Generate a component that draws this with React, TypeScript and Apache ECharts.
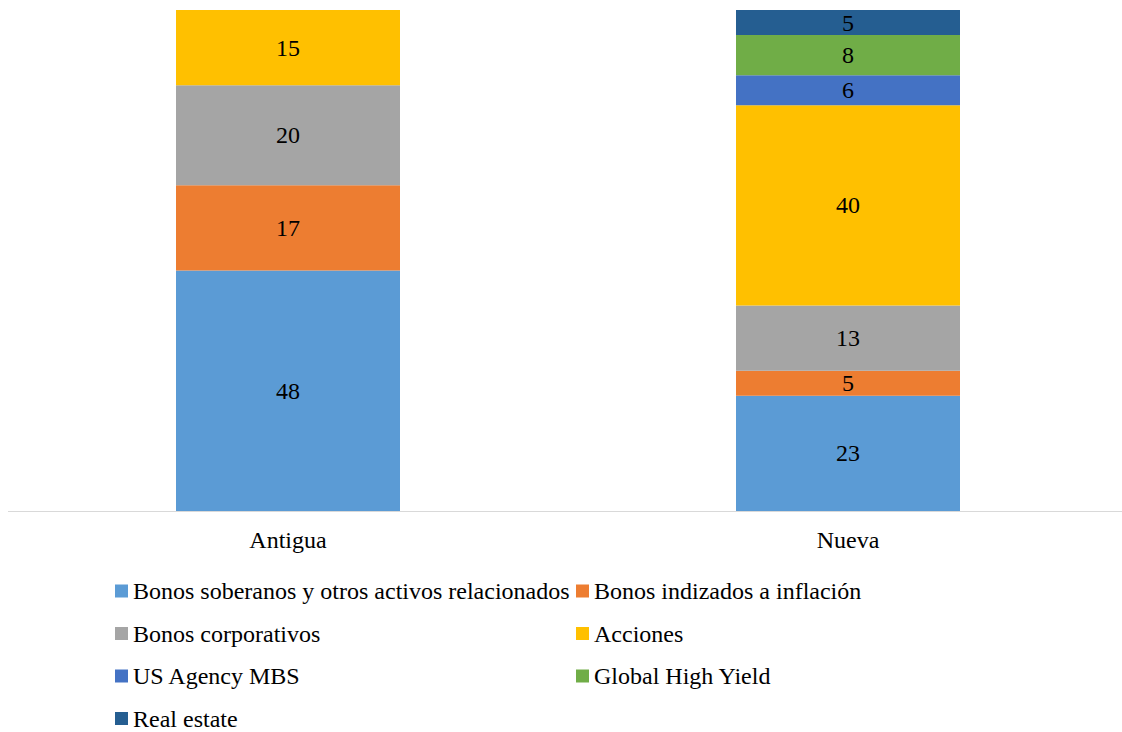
import React, { useEffect, useRef } from "react";
import * as echarts from "echarts";

// Portfolio composition (%) for the old and new allocations
const categories = ["Antigua", "Nueva"];

const seriesNames = [
  "Bonos soberanos y otros activos relacionados",
  "Bonos indizados a inflación",
  "Bonos corporativos",
  "Acciones",
  "US Agency MBS",
  "Global High Yield",
  "Real estate",
];

const soberanos = [48, 23];
const indizados = [17, 5];
const corporativos = [20, 13];
const acciones = [15, 40];
const mbs = [null, 6];
const highYield = [null, 8];
const realEstate = [null, 5];

const seriesValues = [soberanos, indizados, corporativos, acciones, mbs, highYield, realEstate];

const colors = ["#5B9BD5", "#ED7D31", "#A5A5A5", "#FFC000", "#4472C4", "#70AD47", "#255E91"];

const FONT = "Times New Roman, Liberation Serif, serif";

export default function App() {
  const ref = useRef<HTMLDivElement>(null);

  useEffect(() => {
    if (!ref.current) return;
    const chart = echarts.init(ref.current, undefined, { renderer: "svg" });

    const legendText = { fontFamily: FONT, fontSize: 24, color: "#000", lineHeight: 24 };
    const legendBase = {
      orient: "vertical",
      top: 571,
      height: 170,
      padding: 0,
      itemWidth: 13,
      itemHeight: 13,
      itemGap: 18.5,
      icon: "rect",
      textStyle: legendText,
    };

    chart.setOption({
      animation: false,
      color: colors,
      textStyle: { fontFamily: FONT },
      grid: { left: 0, right: 0, top: 2, bottom: 237, containLabel: false },
      legend: [
        {
          ...legendBase,
          left: 107,
          data: [seriesNames[0], seriesNames[2], seriesNames[4], seriesNames[6]],
        },
        {
          ...legendBase,
          left: 568,
          data: [seriesNames[1], seriesNames[3], seriesNames[5]],
        },
      ],
      xAxis: {
        type: "category",
        data: categories,
        axisLine: { show: true, lineStyle: { color: "#D9D9D9", width: 1 } },
        axisTick: { show: false },
        axisLabel: { fontFamily: FONT, fontSize: 24, color: "#000", margin: 17 },
      },
      yAxis: {
        type: "value",
        min: 0,
        max: 100,
        show: false,
        splitLine: { show: false },
      },
      series: seriesNames.map((name, i) => ({
        name,
        type: "bar",
        stack: "total",
        barWidth: "40%",
        data: seriesValues[i],
        label: {
          show: true,
          position: "inside",
          fontFamily: FONT,
          fontSize: 24,
          color: "#000",
        },
      })),
    });

    return () => chart.dispose();
  }, []);

  return (
    <div
      style={{
        position: "absolute",
        left: 8,
        top: 8,
        width: 1114,
        height: 724,
        overflow: "hidden",
      }}
    >
      <div ref={ref} style={{ width: 1120, height: 740 }} />
    </div>
  );
}
